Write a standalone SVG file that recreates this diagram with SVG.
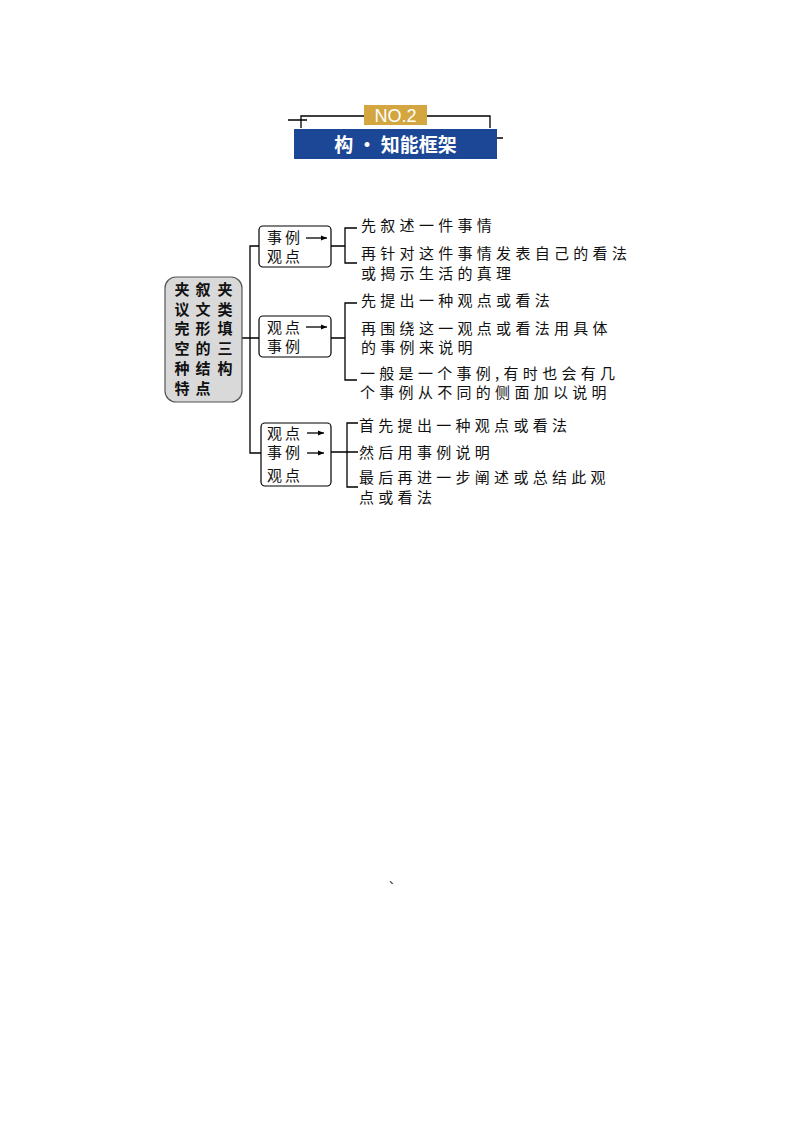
<svg xmlns="http://www.w3.org/2000/svg" width="794" height="1123" viewBox="0 0 794 1123">
<style>
.ln{fill:none;stroke:#000;stroke-width:1.3}
.bx{fill:#fff;stroke:#000;stroke-width:1.2}
.t{font-family:"Noto Sans CJK SC","Liberation Sans",sans-serif;font-size:15px;letter-spacing:4.3px;fill:#111}
.b{font-family:"Noto Sans CJK SC","Liberation Sans",sans-serif;font-size:15px;letter-spacing:3px;fill:#111}
.m{font-family:"Noto Sans CJK SC","Liberation Sans",sans-serif;font-size:15px;font-weight:bold;fill:#111;text-anchor:middle}
</style>
<defs>
<marker id="ah" viewBox="0 0 10 10" refX="10" refY="5" markerWidth="5" markerHeight="5" orient="auto"><path d="M0,1 L10,5 L0,9 z" fill="#000"/></marker>
</defs>
<rect width="794" height="1123" fill="#fff"/>
<g id="header">
<path class="ln" d="M301,128 V116 H490 V128 M288,120 H307 M497,138 H503"/>
<rect x="364" y="105" width="63" height="20" fill="#d4a640"/>
<text x="395.5" y="122" text-anchor="middle" font-family="Liberation Sans,sans-serif" font-size="18" fill="#fff">NO.2</text>
<rect x="294" y="129" width="203" height="30" fill="#1c4696"/>
<text x="395.5" y="151.5" text-anchor="middle" font-family="Noto Sans CJK SC,sans-serif" font-size="19" font-weight="bold" fill="#fff">构 · 知能框架</text>
</g>
<g id="connectors">
<path class="ln" d="M242,338 H250 M259,246 H250 V453 H261 M250,338 H259"/>
<path class="ln" d="M331,246 H345 M357,228 H345 V263 H357"/>
<path class="ln" d="M331,338 H345 M357,303 H345 V380 H357"/>
<path class="ln" d="M331,452 H347 M358,423 H347 V487 H358 M347,452 H358"/>
</g>
<g id="main">
<rect x="165" y="277" width="77" height="125" rx="11" fill="#d9d9d9" stroke="#555" stroke-width="1.2"/>
<text class="m" y="295"><tspan x="182">夹</tspan><tspan x="203">叙</tspan><tspan x="225">夹</tspan></text>
<text class="m" y="315"><tspan x="182">议</tspan><tspan x="203">文</tspan><tspan x="225">类</tspan></text>
<text class="m" y="334"><tspan x="182">完</tspan><tspan x="203">形</tspan><tspan x="225">填</tspan></text>
<text class="m" y="354"><tspan x="182">空</tspan><tspan x="203">的</tspan><tspan x="225">三</tspan></text>
<text class="m" y="374"><tspan x="182">种</tspan><tspan x="203">结</tspan><tspan x="225">构</tspan></text>
<text class="m" y="394"><tspan x="182">特</tspan><tspan x="203">点</tspan></text>
</g>
<g id="box1">
<rect class="bx" x="259" y="226" width="72" height="41" rx="4"/>
<text class="b" x="267" y="243">事例</text>
<line class="ln" x1="306" y1="238" x2="327" y2="238" marker-end="url(#ah)"/>
<text class="b" x="267" y="262">观点</text>
</g>
<g id="box2">
<rect class="bx" x="259" y="316" width="72" height="41" rx="4"/>
<text class="b" x="267" y="333">观点</text>
<line class="ln" x1="306" y1="327" x2="327" y2="327" marker-end="url(#ah)"/>
<text class="b" x="267" y="352">事例</text>
</g>
<g id="box3">
<rect class="bx" x="261" y="423" width="70" height="63" rx="4"/>
<text class="b" x="267" y="439">观点</text>
<line class="ln" x1="307" y1="433" x2="324" y2="433" marker-end="url(#ah)"/>
<text class="b" x="267" y="458">事例</text>
<line class="ln" x1="307" y1="453" x2="324" y2="453" marker-end="url(#ah)"/>
<text class="b" x="267" y="481">观点</text>
</g>
<g id="texts1">
<text class="t" x="361" y="231">先叙述一件事情</text>
<text class="t" x="361" y="259">再针对这件事情发表自己的看法</text>
<text class="t" x="361" y="279">或揭示生活的真理</text>
</g>
<g id="texts2">
<text class="t" x="361" y="306">先提出一种观点或看法</text>
<text class="t" x="361" y="334">再围绕这一观点或看法用具体</text>
<text class="t" x="361" y="353">的事例来说明</text>
<text class="t" x="360" y="379">一般是一个事例,有时也会有几</text>
<text class="t" x="360" y="398">个事例从不同的侧面加以说明</text>
</g>
<g id="texts3">
<text class="t" x="359" y="431">首先提出一种观点或看法</text>
<text class="t" x="359" y="458">然后用事例说明</text>
<text class="t" x="359" y="483">最后再进一步阐述或总结此观</text>
<text class="t" x="359" y="503">点或看法</text>
</g>
<text x="389" y="884" font-family="Noto Sans CJK SC,sans-serif" font-size="12" fill="#333">、</text>
</svg>
